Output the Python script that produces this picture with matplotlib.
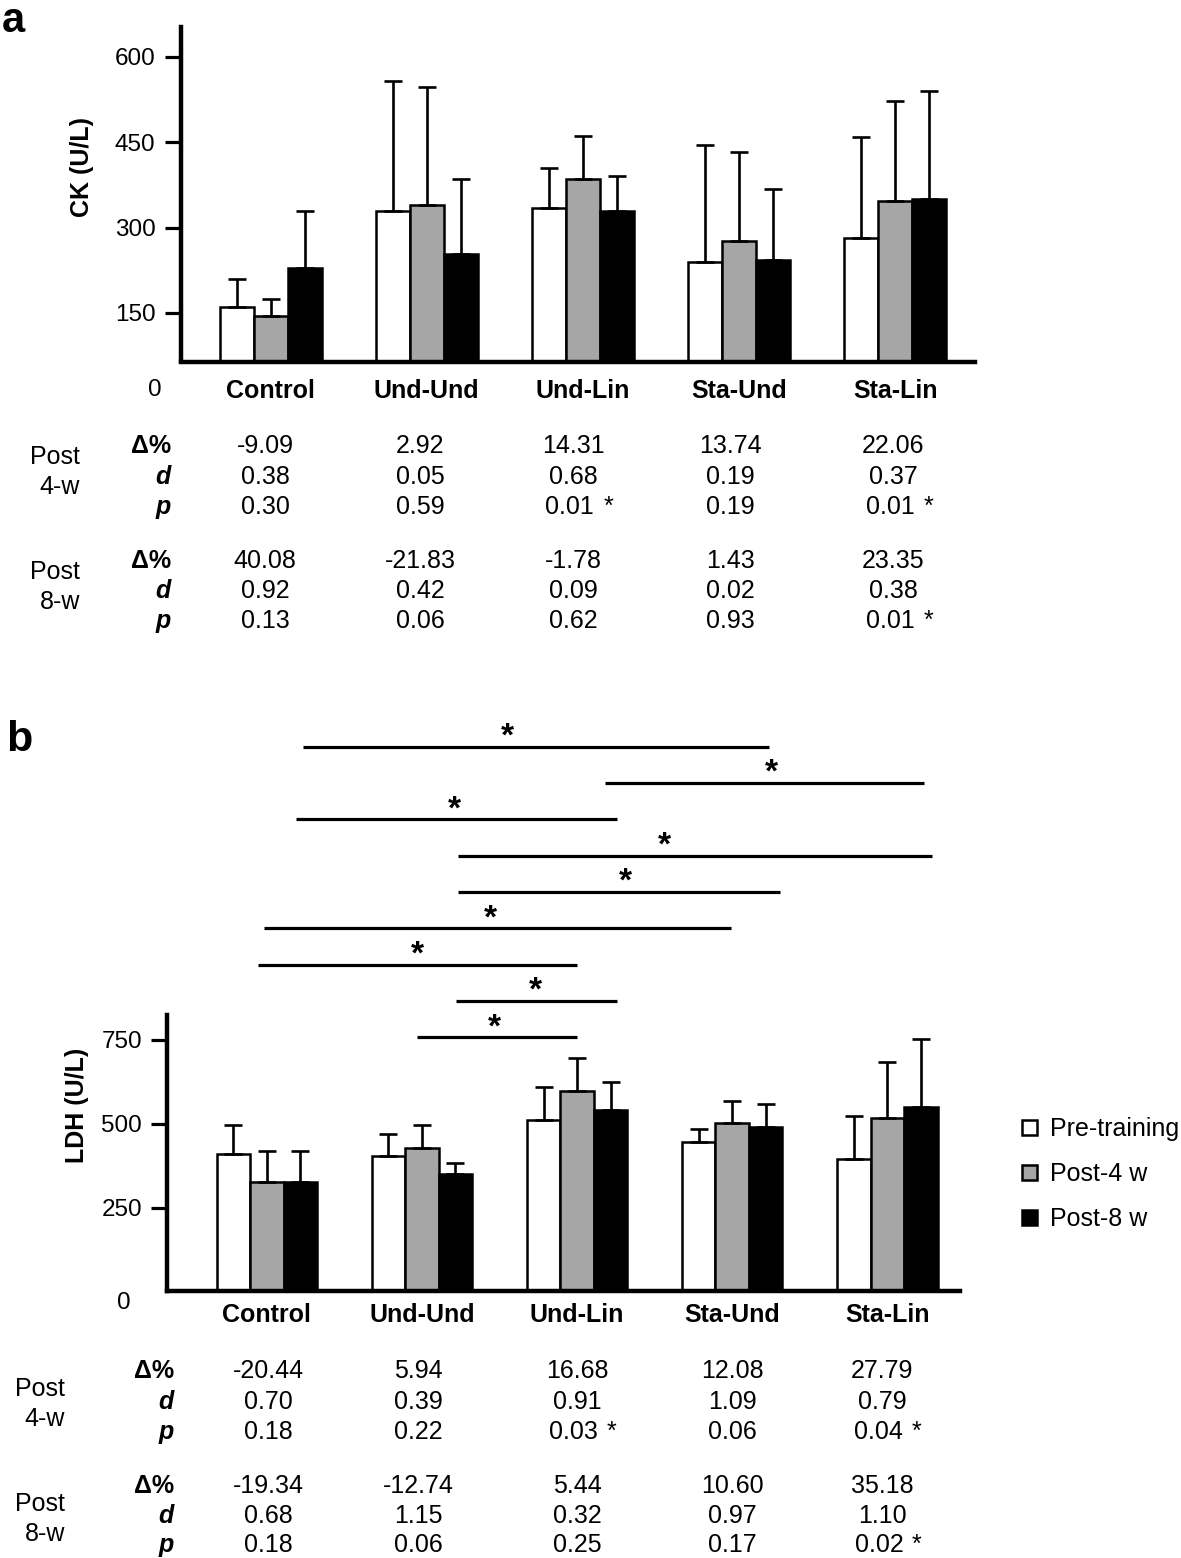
import numpy as np
import matplotlib
matplotlib.use('Agg')
import matplotlib.pyplot as plt
from matplotlib.transforms import blended_transform_factory

plt.rcParams['font.family'] = ['Liberation Sans', 'DejaVu Sans']

W, H = 1181, 1558

# ---------------- data ----------------
groups = ['Control', 'Und-Und', 'Und-Lin', 'Sta-Und', 'Sta-Lin']
series = ['Pre-training', 'Post-4 w', 'Post-8 w']
colors = ['white', '#a6a6a6', 'black']

ck_pre = [160, 329, 334, 239, 281]
ck_post4 = [145, 340, 386, 276, 347]
ck_post8 = [229, 253, 329, 243, 350]
ck_pre_sd = [50, 229, 71, 206, 178]
ck_post4_sd = [29, 207, 75, 157, 176]
ck_post8_sd = [100, 132, 62, 125, 190]
ck_yticks = [150, 300, 450, 600]

ldh_pre = [411, 404, 511, 447, 396]
ldh_post4 = [327, 428, 597, 503, 518]
ldh_post8 = [327, 351, 541, 491, 549]
ldh_pre_sd = [85, 66, 98, 38, 128]
ldh_post4_sd = [92, 68, 98, 66, 165]
ldh_post8_sd = [92, 33, 83, 69, 204]
ldh_yticks = [250, 500, 750]

ck_4w_delta = ['-9.09', '2.92', '14.31', '13.74', '22.06']
ck_4w_d = ['0.38', '0.05', '0.68', '0.19', '0.37']
ck_4w_p = ['0.30', '0.59', '0.01 *', '0.19', '0.01 *']
ck_8w_delta = ['40.08', '-21.83', '-1.78', '1.43', '23.35']
ck_8w_d = ['0.92', '0.42', '0.09', '0.02', '0.38']
ck_8w_p = ['0.13', '0.06', '0.62', '0.93', '0.01 *']

ldh_4w_delta = ['-20.44', '5.94', '16.68', '12.08', '27.79']
ldh_4w_d = ['0.70', '0.39', '0.91', '1.09', '0.79']
ldh_4w_p = ['0.18', '0.22', '0.03 *', '0.06', '0.04 *']
ldh_8w_delta = ['-19.34', '-12.74', '5.44', '10.60', '35.18']
ldh_8w_d = ['0.68', '1.15', '0.32', '0.97', '1.10']
ldh_8w_p = ['0.18', '0.06', '0.25', '0.17', '0.02 *']

# significance brackets between groups (group-index units)
sig_start = [0.23, 2.18, 0.19, 1.23, 1.23, -0.02, -0.06, 1.22, 0.97]
sig_end = [3.24, 4.24, 2.26, 4.29, 3.31, 2.99, 2.00, 2.26, 2.00]
sig_star = [1.55, 3.25, 1.21, 2.56, 2.31, 1.44, 0.97, 1.73, 1.47]

# table column positions (group-index units)
ck_cols = [-0.036, 0.957, 1.937, 2.943, 3.987]
ldh_cols = [0.007, 0.977, 1.999, 2.999, 3.966]

# ---------------- layout ----------------
fig = plt.figure(figsize=(W / 100, H / 100), dpi=100)

ov = fig.add_axes([0, 0, 1, 1])
ov.set_xlim(0, W)
ov.set_ylim(H, 0)
ov.axis('off')


def px_axes(left, top, right, bottom):
    return fig.add_axes([left / W, 1 - bottom / H, (right - left) / W, (bottom - top) / H])


FS = 18


def bar_panel(ax, means, sds, width, xlim, ylim, yticks):
    x = np.arange(len(groups))
    conts = []
    for k, (m, s) in enumerate(zip(means, sds)):
        xs = x + (k - 1) * width
        c = ax.bar(xs, m, width, color=colors[k], edgecolor='black', linewidth=1.8,
                   label=series[k], zorder=2)
        conts.append(c)
        ax.errorbar(xs, m, yerr=[np.zeros(len(m)), s], fmt='none', ecolor='black',
                    elinewidth=1.9, capsize=6.2, capthick=1.9, zorder=3)
    ax.set_xlim(*xlim)
    ax.set_ylim(*ylim)
    ax.set_yticks(yticks)
    ax.set_xticks([])
    ax.tick_params(axis='y', length=11.5, width=2.3, labelsize=17.5, pad=6.5)
    for sp in ['top', 'right']:
        ax.spines[sp].set_visible(False)
    for sp in ['left', 'bottom']:
        ax.spines[sp].set_linewidth(3.2)
    ax.set_facecolor('none')
    return conts


# Panel a
ax_a = px_axes(180.5, 27, 975, 361.5)
bar_panel(ax_a, [ck_pre, ck_post4, ck_post8], [ck_pre_sd, ck_post4_sd, ck_post8_sd],
          0.218, (-0.577, 4.512), (64.5, 652.6), ck_yticks)

# Panel b
ax_b = px_axes(167, 1015, 960, 1291)
conts_b = bar_panel(ax_b, [ldh_pre, ldh_post4, ldh_post8],
                    [ldh_pre_sd, ldh_post4_sd, ldh_post8_sd],
                    0.216, (-0.644, 4.469), (3.3, 823), ldh_yticks)

# category labels
for ax, base in [(ax_a, 398), (ax_b, 1322)]:
    tr = blended_transform_factory(ax.transData, ov.transData)
    for i, g in enumerate(groups):
        ov.text(i, base, g, transform=tr, ha='center', va='baseline',
                fontsize=FS, fontweight='bold')

# zero labels, y labels, panel letters
ov.text(155, 396, '0', ha='center', va='baseline', fontsize=17.5)
ov.text(124, 1309, '0', ha='center', va='baseline', fontsize=17.5)
ov.text(82.5, 167, 'CK (U/L)', rotation=90, ha='center', va='center',
        fontsize=FS, fontweight='bold')
ov.text(77, 1105, 'LDH (U/L)', rotation=90, ha='center', va='center',
        fontsize=FS, fontweight='bold')
ov.text(2, 32, 'a', ha='left', va='baseline', fontsize=30, fontweight='bold')
ov.text(6, 751, 'b', ha='left', va='baseline', fontsize=31, fontweight='bold')


# stats tables
def table(ax, cols, rows4, rows8, base4, base8, lab_right, post_right, post_base):
    tr = blended_transform_factory(ax.transData, ov.transData)
    names = ['\u0394%', 'd', 'p']
    for rows, bases in [(rows4, base4), (rows8, base8)]:
        for name, vals, b in zip(names, rows, bases):
            style = 'normal' if name.startswith('\u0394') else 'italic'
            ov.text(lab_right, b, name, ha='right', va='baseline', fontsize=FS,
                    fontweight='bold', style=style)
            for c, v in zip(cols, vals):
                if v.endswith('*'):
                    ov.text(c - 0.02, b, v[:-2], transform=tr, ha='center',
                            va='baseline', fontsize=FS)
                    ov.text(c + 0.225, b, '*', transform=tr, ha='center',
                            va='baseline', fontsize=FS)
                else:
                    ov.text(c, b, v, transform=tr, ha='center', va='baseline', fontsize=FS)
    for pb, lab in zip(post_base, ['4-w', '8-w']):
        ov.text(post_right, pb - 1, 'Post', ha='right', va='baseline', fontsize=FS)
        ov.text(post_right, pb + 29, lab, ha='right', va='baseline', fontsize=FS)


table(ax_a, ck_cols, [ck_4w_delta, ck_4w_d, ck_4w_p], [ck_8w_delta, ck_8w_d, ck_8w_p],
      [453, 484, 514], [568, 598, 628], 171, 80, (465, 580))
table(ax_b, ldh_cols, [ldh_4w_delta, ldh_4w_d, ldh_4w_p],
      [ldh_8w_delta, ldh_8w_d, ldh_8w_p],
      [1378, 1409, 1439], [1493, 1523, 1552], 174, 65, (1397, 1512))

# significance brackets
trb = blended_transform_factory(ax_b.transData, ov.transData)
level0, step = 746.7, 36.3
for k, (s, e, st) in enumerate(zip(sig_start, sig_end, sig_star)):
    y = level0 + k * step
    ov.plot([s, e], [y, y], color='black', lw=2.3, transform=trb, solid_capstyle='butt')
    ov.text(st, y - 1, '*', transform=trb, ha='center', va='baseline', fontsize=24,
            fontweight='bold')

# legend
ax_b.legend(handles=conts_b, labels=series, loc='upper left',
            bbox_to_anchor=(1022 / W, 1 - 1117 / H), bbox_transform=fig.transFigure,
            frameon=False, fontsize=FS, handlelength=0.6, handleheight=0.55,
            handletextpad=0.5, labelspacing=0.85, borderpad=0, borderaxespad=0)

fig.savefig('out.png', dpi=100)
